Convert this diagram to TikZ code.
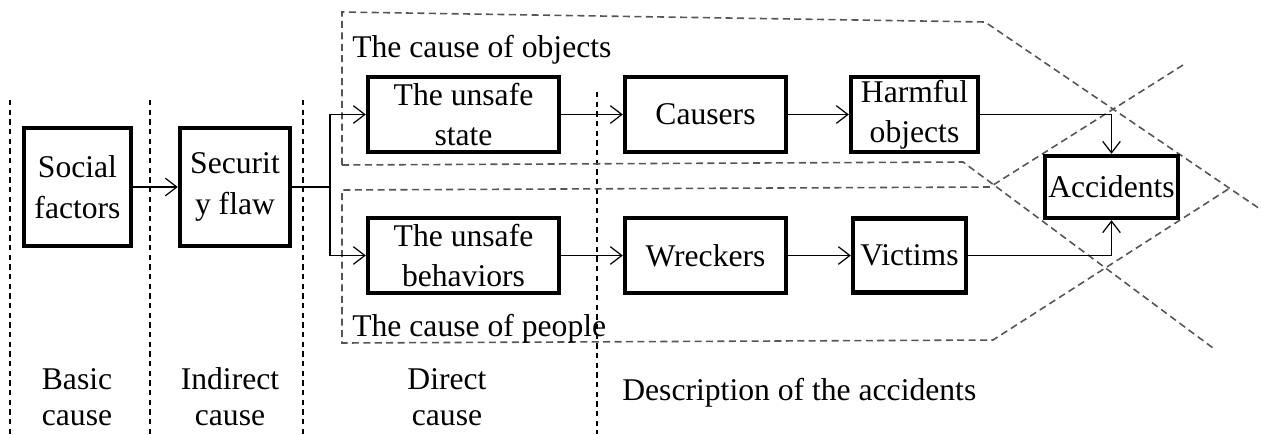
\documentclass[tikz,border=0pt]{standalone}
\usepackage{fontspec}
\setmainfont{Liberation Serif}
\usepackage{tikz}
\usetikzlibrary{arrows.meta, calc}
\definecolor{regiongray}{HTML}{555555}

\tikzset{
  causebox/.style={draw, line width=2.5pt, align=center, inner sep=0pt,
    font=\fontsize{18}{23}\selectfont},
  boxsize/.style 2 args={minimum width=#1*0.02cm, minimum height=#2*0.02cm},
  causelabel/.style={align=center, inner sep=0pt, font=\fontsize{18}{20.5}\selectfont},
  flowline/.style={line width=0.7pt, -{Straight Barb[length=6.5pt,width=10pt]}},
  plainline/.style={line width=0.7pt},
  region/.style={regiongray, line width=0.9pt, dash pattern=on 4pt off 2.5pt},
  separator/.style={black, line width=0.7pt, dash pattern=on 3pt off 2.5pt}
}

\begin{document}
\begin{tikzpicture}[x=0.02cm, y=-0.02cm]
  \useasboundingbox (0,0) rectangle (1261,434);

  % Column separators
  \draw[separator] (10,100) -- (10,434);
  \draw[separator] (150,100) -- (150,434);
  \draw[separator] (303,100) -- (303,434);
  \draw[separator] (597,92) -- (597,434);

  % Region of objects
  \draw[region] (342,165) -- (342,12) -- (985,22) -- (1260,209);
  \draw[region] (342,165) -- (963,162) -- (1213,348);
  \node[causelabel, anchor=base west] (objlabel) at (352,57) {The cause of objects};

  % Region of people
  \draw[region] (1183,65) -- (990,187) -- (342,190) -- (342,343) -- (993,340) -- (1230,188);
  \node[causelabel, anchor=base west] (peoplelabel) at (352,336) {The cause of people};

  % Boxes
  \node[causebox, boxsize={107}{118}] (social) at (77.5,187) {Social\\factors};
  \node[causebox, boxsize={110}{118}] (security) at (235,187) {Securit\\y flaw};
  \node[causebox, boxsize={191}{75}] (state) at (463.5,114.5) {The unsafe\\state};
  \node[causebox, boxsize={191}{75}] (behav) at (463.5,255.5) {The unsafe\\behaviors};
  \node[causebox, boxsize={161}{75}] (causers) at (705.5,114.5) {Causers};
  \node[causebox, boxsize={161}{75}] (wreckers) at (705.5,255.5) {Wreckers};
  \node[causebox, boxsize={127}{75}] (harmful) at (914.5,114.5) {Harmful\\objects};
  \node[causebox, boxsize={113}{74}] (victims) at (909.5,255.5) {Victims};
  \node[causebox, boxsize={133}{62}] (accidents) at (1111.5,187) {Accidents};

  % Connectors
  \coordinate (split) at (330,187);
  \draw[flowline] (social) -- (security);
  \draw[plainline] (security.east) -- (split);
  \draw[flowline] (split) |- (state.west);
  \draw[flowline] (split) |- (behav.west);
  \draw[flowline] (state) -- (causers);
  \draw[flowline] (behav) -- (wreckers);
  \draw[flowline] (causers) -- (harmful);
  \draw[flowline] (wreckers) -- (victims);
  \draw[flowline] (harmful.east) -| (accidents.north);
  \draw[flowline] (victims.east) -| (accidents.south);

  % Column labels
  \node[causelabel] (basic) at (77,397) {Basic\\cause};
  \node[causelabel] (indirect) at (230,397) {Indirect\\cause};
  \node[causelabel] (direct) at (447,397) {Direct\\cause};
  \node[causelabel, anchor=base west] (descr) at (622,400) {Description of the accidents};
\end{tikzpicture}
\end{document}
